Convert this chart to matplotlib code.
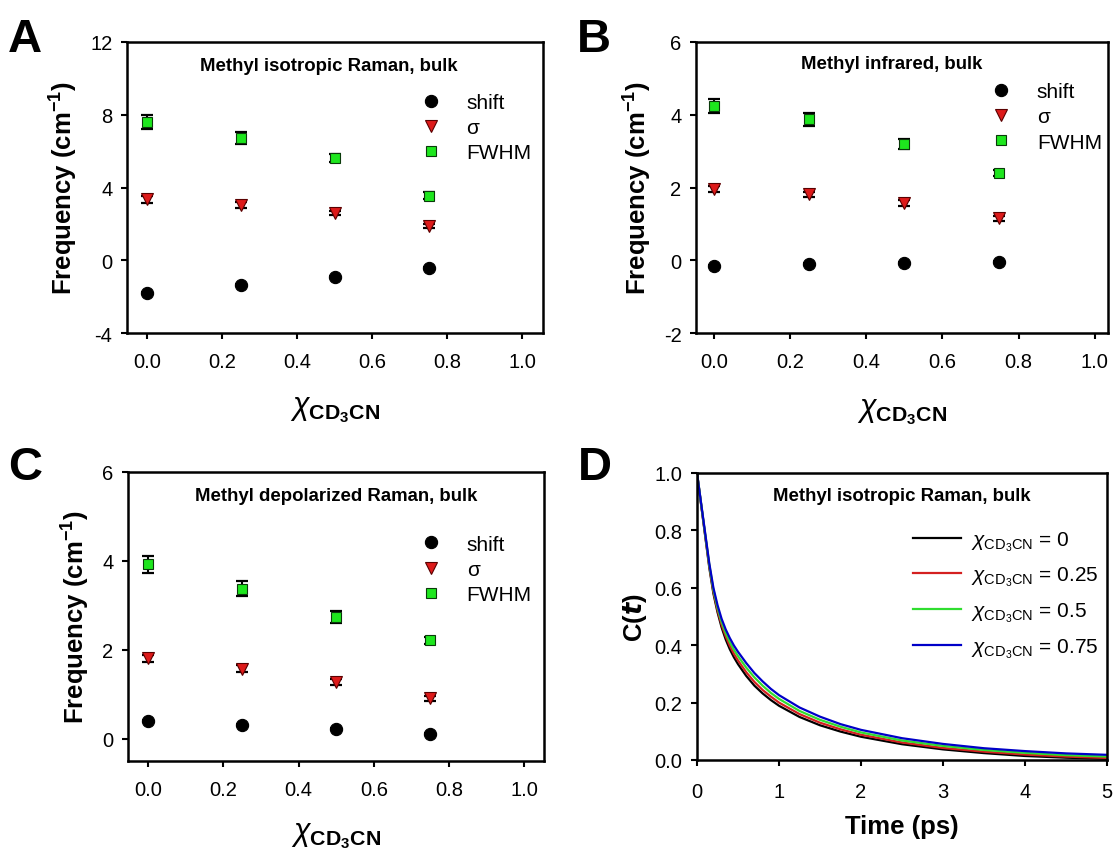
import matplotlib
matplotlib.use("Agg")
import matplotlib.pyplot as plt
from matplotlib.lines import Line2D

plt.rcParams['font.family'] = ['Liberation Sans', 'DejaVu Sans']
plt.rcParams['mathtext.fontset'] = 'custom'
plt.rcParams['mathtext.rm'] = 'Liberation Sans'
plt.rcParams['mathtext.bf'] = 'Liberation Sans:bold'
plt.rcParams['mathtext.it'] = 'Liberation Sans:italic'
plt.rcParams['mathtext.sf'] = 'Liberation Sans'

# ---------------- data ----------------
chi = [0.0, 0.25, 0.5, 0.75]

A_shift = [-1.78, -1.36, -0.90, -0.42]
A_shift_err = [0.05, 0.05, 0.05, 0.05]
A_sigma = [3.36, 3.05, 2.61, 1.89]
A_sigma_err = [0.20, 0.15, 0.12, 0.10]
A_fwhm = [7.59, 6.71, 5.61, 3.55]
A_fwhm_err = [0.38, 0.34, 0.22, 0.18]

B_shift = [-0.15, -0.11, -0.08, -0.04]
B_shift_err = [0.03, 0.03, 0.03, 0.03]
B_sigma = [1.96, 1.81, 1.57, 1.15]
B_sigma_err = [0.08, 0.08, 0.08, 0.07]
B_fwhm = [4.24, 3.87, 3.19, 2.40]
B_fwhm_err = [0.20, 0.19, 0.14, 0.08]

C_shift = [0.41, 0.31, 0.22, 0.10]
C_shift_err = [0.02, 0.02, 0.02, 0.02]
C_sigma = [1.81, 1.58, 1.28, 0.91]
C_sigma_err = [0.08, 0.07, 0.06, 0.05]
C_fwhm = [3.92, 3.37, 2.74, 2.22]
C_fwhm_err = [0.19, 0.17, 0.14, 0.08]

t_ps = [0, 0.05, 0.1, 0.15, 0.2, 0.25, 0.3, 0.35, 0.4, 0.45, 0.5, 0.6, 0.7, 0.8, 0.9, 1.0,
        1.25, 1.5, 1.75, 2.0, 2.5, 3.0, 3.5, 4.0, 4.5, 5.0]
C_x0 = [1.0, 0.89, 0.78, 0.67, 0.58, 0.515, 0.462, 0.420, 0.386, 0.358, 0.334, 0.293, 0.259,
        0.232, 0.209, 0.189, 0.150, 0.121, 0.099, 0.081, 0.055, 0.037, 0.024, 0.014, 0.008,
        0.004]
C_x025 = [1.0, 0.891, 0.783, 0.675, 0.586, 0.522, 0.471, 0.431, 0.398, 0.370, 0.347, 0.306,
          0.272, 0.244, 0.221, 0.200, 0.160, 0.130, 0.107, 0.088, 0.061, 0.042, 0.029, 0.019,
          0.012, 0.007]
C_x05 = [1.0, 0.893, 0.786, 0.680, 0.593, 0.531, 0.481, 0.442, 0.411, 0.384, 0.362, 0.322,
         0.288, 0.259, 0.234, 0.213, 0.171, 0.140, 0.116, 0.096, 0.068, 0.049, 0.035, 0.025,
         0.017, 0.012]
C_x075 = [1.0, 0.895, 0.790, 0.685, 0.600, 0.540, 0.492, 0.455, 0.425, 0.399, 0.377, 0.338,
          0.303, 0.274, 0.248, 0.226, 0.183, 0.151, 0.125, 0.105, 0.076, 0.056, 0.041, 0.031,
          0.023, 0.018]

curve_labels = ['0', '0.25', '0.5', '0.75']
curve_colors = ['#000000', '#d42020', '#30dd30', '#0000c8']

series_labels = ['shift', 'σ', 'FWHM']

# ---------------- styling ----------------
W, H = 1114, 854
fig = plt.figure(figsize=(W / 100, H / 100), dpi=100)

def px_axes(l, r, t, b):
    return fig.add_axes([l / W, (H - b) / H, (r - l) / W, (b - t) / H])

axA = px_axes(127, 543, 43, 334)
axB = px_axes(696, 1108, 43, 334)
axC = px_axes(128, 544, 473, 762)
axD = px_axes(697, 1107, 474, 761)

TICK_FS = 14.5
LABEL_FS = 18.5
TITLE_FS = 13.4
LEG_FS = 15

def style_axes(ax):
    for s in ax.spines.values():
        s.set_linewidth(1.8)
    ax.tick_params(direction='out', length=4.5, width=1.5, labelsize=TICK_FS)
    ax.tick_params(axis='x', pad=9)
    ax.tick_params(axis='y', pad=6)

green = '#1ee61e'
red = '#dd1a1a'
marker_specs = [('o', 'black', 'black', 8.8), ('v', red, '#5a0000', 9.0), ('s', green, '#0a3a0a', 7.4)]

def scatter_panel(ax, shift, shift_e, sigma, sigma_e, fwhm, fwhm_e, ylim, yticks,
                  xlim, title, tpos, legpos, xlabelpad):
    style_axes(ax)
    vals = [(shift, shift_e), (sigma, sigma_e), (fwhm, fwhm_e)]
    handles = []
    for (v, e), (m, fc, ec, ms), lab in zip(vals, marker_specs, series_labels):
        ax.errorbar(chi, v, yerr=e, fmt='none', ecolor='black', elinewidth=1.5,
                    capsize=4, capthick=1.6, zorder=2)
        ax.plot(chi, v, linestyle='none', marker=m, markersize=ms, markerfacecolor=fc,
                markeredgecolor=ec, markeredgewidth=0.8, zorder=3)
        handles.append(Line2D([], [], linestyle='none', marker=m, markersize=ms,
                              markerfacecolor=fc, markeredgecolor=ec, markeredgewidth=0.8,
                              label=lab))
    ax.set_xlim(*xlim)
    ax.set_ylim(*ylim)
    ax.set_xticks([0.0, 0.2, 0.4, 0.6, 0.8, 1.0])
    ax.set_xticklabels(['0.0', '0.2', '0.4', '0.6', '0.8', '1.0'])
    ax.set_yticks(yticks)
    ax.set_yticklabels([str(v) for v in yticks])
    ax.set_ylabel(r'Frequency (cm$^{\mathbf{-1}}$)', fontsize=LABEL_FS, fontweight='bold',
                  labelpad=7)
    ax.set_xlabel(r'$\chi_{\mathbf{CD_3CN}}$', fontsize=22, labelpad=xlabelpad)
    ax.text(tpos[0], tpos[1], title, transform=ax.transAxes, ha='center', va='center',
            fontsize=TITLE_FS, fontweight='bold')
    ax.legend(handles=handles, loc='upper left', bbox_to_anchor=legpos, frameon=False,
              fontsize=LEG_FS, handlelength=1.0, handletextpad=1.2, labelspacing=0.3,
              borderpad=0, borderaxespad=0)

scatter_panel(axA, A_shift, A_shift_err, A_sigma, A_sigma_err, A_fwhm, A_fwhm_err,
              (-4, 12), [-4, 0, 4, 8, 12], (-0.054, 1.055),
              'Methyl isotropic Raman, bulk', (0.485, 0.92), (0.705, 0.825), 17)
scatter_panel(axB, B_shift, B_shift_err, B_sigma, B_sigma_err, B_fwhm, B_fwhm_err,
              (-2, 6), [-2, 0, 2, 4, 6], (-0.047, 1.035),
              'Methyl infrared, bulk', (0.476, 0.925), (0.716, 0.862), 18)
scatter_panel(axC, C_shift, C_shift_err, C_sigma, C_sigma_err, C_fwhm, C_fwhm_err,
              (-0.5, 6), [0, 2, 4, 6], (-0.054, 1.053),
              'Methyl depolarized Raman, bulk', (0.5, 0.92), (0.704, 0.783), 15)

# ---------------- panel D ----------------
style_axes(axD)
axD.tick_params(axis='x', pad=11)
for y, lab, col in zip([C_x0, C_x025, C_x05, C_x075], curve_labels, curve_colors):
    axD.plot(t_ps, y, color=col, linewidth=1.6,
             label=r'$\chi_{\mathrm{CD_3CN}}$' + ' = ' + lab)
axD.set_xlim(0, 5)
axD.set_ylim(0, 1.0)
axD.set_xticks([0, 1, 2, 3, 4, 5])
axD.set_yticks([0.0, 0.2, 0.4, 0.6, 0.8, 1.0])
axD.set_yticklabels(['0.0', '0.2', '0.4', '0.6', '0.8', '1.0'])
axD.set_xlabel('Time (ps)', fontsize=LABEL_FS, fontweight='bold', labelpad=10)
axD.set_ylabel(r'$\mathbf{C(}\mathbfit{t}\mathbf{)}$', fontsize=LABEL_FS, labelpad=4)
axD.text(0.5, 0.923, 'Methyl isotropic Raman, bulk', transform=axD.transAxes,
         ha='center', va='center', fontsize=TITLE_FS, fontweight='bold')
axD.legend(loc='upper left', bbox_to_anchor=(0.527, 0.805), frameon=False, fontsize=15,
           handlelength=2.3, handletextpad=0.5, labelspacing=0.58, borderpad=0,
           borderaxespad=0)

# ---------------- panel letters ----------------
for lab, x, y in [('A', 8, 52), ('B', 577, 52), ('C', 8, 480), ('D', 578, 480)]:
    fig.text(x / W, 1 - y / H, lab, fontsize=34, fontweight='bold', ha='left',
             va='baseline')

fig.savefig('out.png', dpi=100)
